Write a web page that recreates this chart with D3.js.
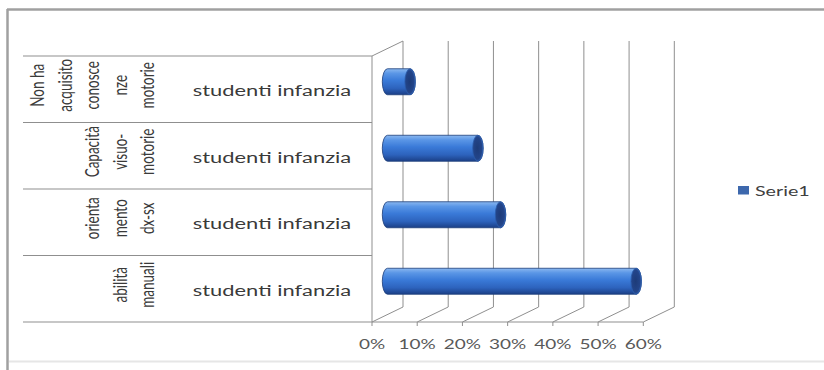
<!DOCTYPE html>
<html>
<head>
<meta charset="utf-8">
<script src="https://cdn.jsdelivr.net/npm/d3@7"></script>
<style>
  html, body { margin: 0; padding: 0; background: #fff; }
  svg { display: block; }
  text { font-family: Lato, "Open Sans", sans-serif; }
</style>
</head>
<body>
<svg id="chart" width="824" height="370"></svg>
<script>
// Chart data
const categories = [
  "Non ha acquisito conoscenze motorie",
  "Capacità visuo-motorie",
  "orientamento dx-sx",
  "abilità manuali"
];
const categoryLines = [
  ["Non ha", "acquisito", "conosce", "nze", "motorie"],
  ["Capacità", "visuo-", "motorie"],
  ["orienta", "mento", "dx-sx"],
  ["abilità", "manuali"]
];
const subCategory = "studenti infanzia";
const seriesName = "Serie1";
const values = [0.05, 0.20, 0.25, 0.55];
const tickValues = [0, 0.1, 0.2, 0.3, 0.4, 0.5, 0.6];

const svg = d3.select("#chart");
const SX = 1.46;           // horizontal text stretch
const depthX = 31, depthY = -15;
const gridColor = "#8f8f8f";

// Outer frame
svg.append("rect").attr("x", 0).attr("y", 0).attr("width", 824).attr("height", 370).attr("fill", "#fff");
svg.append("line").attr("x1", 7.5).attr("x2", 7.5).attr("y1", 9).attr("y2", 370)
  .attr("stroke", "#a0a0a0").attr("stroke-width", 2.5);
svg.append("line").attr("x1", 7).attr("x2", 824).attr("y1", 9.5).attr("y2", 9.5)
  .attr("stroke", "#a0a0a0").attr("stroke-width", 2.5);
svg.append("line").attr("x1", 9).attr("x2", 824).attr("y1", 361.5).attr("y2", 361.5)
  .attr("stroke", "#e6e6e6").attr("stroke-width", 2);

// Scales
const x = d3.scaleLinear().domain([0, 0.6]).range([372, 643.3]);
const y = d3.scaleBand().domain(categories).range([56, 322]).padding(0);

const g = svg.append("g");

// Back wall gridlines
g.selectAll("line.grid").data(tickValues).join("line")
  .attr("class", "grid")
  .attr("x1", d => x(d) + depthX).attr("x2", d => x(d) + depthX)
  .attr("y1", y.range()[0] + depthY).attr("y2", y.range()[1] + depthY)
  .attr("stroke", gridColor).attr("stroke-width", 1);

// Floor diagonals
g.selectAll("line.floor").data(tickValues).join("line")
  .attr("class", "floor")
  .attr("x1", d => x(d)).attr("x2", d => x(d) + depthX)
  .attr("y1", y.range()[1]).attr("y2", y.range()[1] + depthY)
  .attr("stroke", gridColor).attr("stroke-width", 1);

// Side wall
g.append("line").attr("x1", x(0)).attr("x2", x(0))
  .attr("y1", y.range()[0]).attr("y2", y.range()[1])
  .attr("stroke", gridColor);
g.append("line").attr("x1", x(0)).attr("x2", x(0) + depthX)
  .attr("y1", y.range()[0]).attr("y2", y.range()[0] + depthY)
  .attr("stroke", gridColor);

// Category separators
const bounds = categories.map(c => y(c)).concat([y.range()[1]]);
g.selectAll("line.sep").data(bounds).join("line")
  .attr("class", "sep")
  .attr("x1", 23).attr("x2", x(0))
  .attr("y1", d => d).attr("y2", d => d)
  .attr("stroke", gridColor).attr("stroke-width", 1);

// Value axis
const axisY = y.range()[1];
g.append("line").attr("x1", x(0)).attr("x2", x(0.6)).attr("y1", axisY).attr("y2", axisY)
  .attr("stroke", gridColor);
g.selectAll("line.tick").data(tickValues).join("line")
  .attr("class", "tick")
  .attr("x1", d => x(d)).attr("x2", d => x(d))
  .attr("y1", axisY).attr("y2", axisY + 4)
  .attr("stroke", gridColor);
const fmt = d3.format(".0%");
g.selectAll("text.tickLabel").data(tickValues).join("text")
  .attr("class", "tickLabel")
  .attr("transform", d => `translate(${x(d)},${axisY + 27}) scale(${SX},1)`)
  .attr("text-anchor", "middle")
  .attr("font-size", 13)
  .attr("fill", "#595959")
  .text(d => fmt(d));

// Bar gradients
const defs = svg.append("defs");
const body = defs.append("linearGradient").attr("id", "barBody")
  .attr("x1", 0).attr("y1", 0).attr("x2", 0).attr("y2", 1);
[["0%", "#8bb8f0"], ["18%", "#5a96e6"], ["45%", "#3a7ad8"], ["75%", "#2d63bd"], ["100%", "#1b3f86"]]
  .forEach(([o, c]) => body.append("stop").attr("offset", o).attr("stop-color", c));
const cap = defs.append("radialGradient").attr("id", "barCap")
  .attr("cx", "45%").attr("cy", "50%").attr("r", "60%");
[["0%", "#1d3b78"], ["70%", "#23458a"], ["100%", "#3f74c8"]]
  .forEach(([o, c]) => cap.append("stop").attr("offset", o).attr("stop-color", c));

// Cylinder bars, placed at mid depth
const ry = 13, rx = 5.2;
const bars = g.selectAll("g.bar").data(categories.map((c, i) => ({ c, v: values[i] }))).join("g")
  .attr("class", "bar");
bars.append("path")
  .attr("d", d => {
    const cy = y(d.c) + y.bandwidth() / 2 + depthY / 2;
    const x0 = x(0) + depthX / 2, x1 = x(d.v) + depthX / 2;
    return `M${x0},${cy - ry} L${x1},${cy - ry} A${rx},${ry} 0 0 1 ${x1},${cy + ry} ` +
           `L${x0},${cy + ry} A${rx},${ry} 0 0 1 ${x0},${cy - ry} Z`;
  })
  .attr("fill", "url(#barBody)")
  .attr("stroke", "#1c3c78").attr("stroke-width", 0.8);
bars.append("ellipse")
  .attr("cx", d => x(d.v) + depthX / 2)
  .attr("cy", d => y(d.c) + y.bandwidth() / 2 + depthY / 2)
  .attr("rx", rx).attr("ry", ry)
  .attr("fill", "url(#barCap)")
  .attr("stroke", "#2a5aa8").attr("stroke-width", 0.8);

// Sub-category labels
g.selectAll("text.sub").data(categories).join("text")
  .attr("class", "sub")
  .attr("transform", d => `translate(272,${y(d) + y.bandwidth() / 2 + 7}) scale(${SX},1)`)
  .attr("text-anchor", "middle")
  .attr("font-size", 15)
  .attr("fill", "#3a3a3a")
  .text(subCategory);

// Rotated category labels, right-aligned line columns
const lineStep = 27.5, lastCol = 154;
categories.forEach((c, i) => {
  const lines = categoryLines[i];
  const cy = y(c) + y.bandwidth() / 2 - 4;
  lines.forEach((t, j) => {
    const cx = lastCol - (lines.length - 1 - j) * lineStep;
    g.append("text")
      .attr("transform", `translate(${cx},${cy}) scale(${SX},1) rotate(-90)`)
      .attr("text-anchor", "middle")
      .attr("font-size", 13.5)
      .attr("fill", "#3a3a3a")
      .text(t);
  });
});

// Legend
const legend = svg.append("g").attr("transform", "translate(738,186)");
legend.append("rect").attr("width", 11).attr("height", 8.5).attr("fill", "#3d68ad");
legend.append("text")
  .attr("transform", `translate(17,9.5) scale(${SX},1)`)
  .attr("font-size", 13.5)
  .attr("fill", "#404040")
  .text(seriesName);
</script>
</body>
</html>
